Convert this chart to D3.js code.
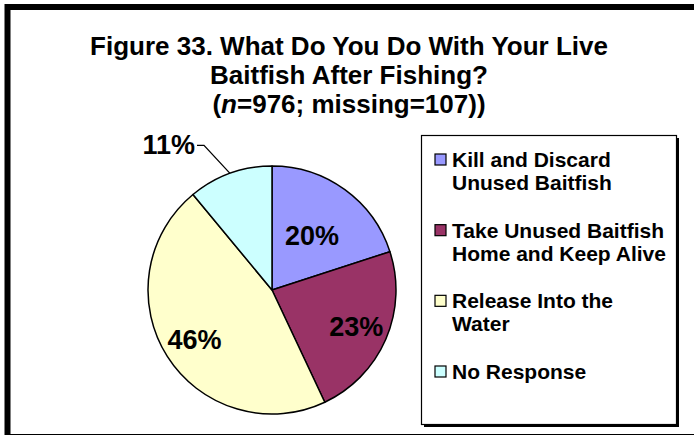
<!DOCTYPE html>
<html>
<head>
<meta charset="utf-8">
<script src="https://cdn.jsdelivr.net/npm/d3@7"></script>
<style>
  body { margin: 0; background: #fff; }
  svg text { font-family: "Liberation Sans", Arial, sans-serif; font-weight: bold; fill: #000; }
</style>
</head>
<body>
<div id="chart"></div>
<script>
// chart values
var categories = ["Kill and Discard Unused Baitfish",
                  "Take Unused Baitfish Home and Keep Alive",
                  "Release Into the Water",
                  "No Response"];
var legendLines = [["Kill and Discard", "Unused Baitfish"],
                   ["Take Unused Baitfish", "Home and Keep Alive"],
                   ["Release Into the", "Water"],
                   ["No Response"]];
var percents = [20, 23, 46, 11];
var sliceColors = ["#9999FF", "#993366", "#FFFFCC", "#CCFFFF"];
var titleLines = ["Figure 33. What Do You Do With Your Live",
                  "Baitfish After Fishing?"];
var sampleN = 976, missingN = 107;

var width = 694, height = 435;

var svg = d3.select("#chart")
  .append("svg")
    .attr("width", width)
    .attr("height", height);

// outer frame (thick, cropped on the right and bottom like the original)
svg.append("rect")
  .attr("x", 7.5).attr("y", 7)
  .attr("width", 730).attr("height", 430)
  .attr("fill", "none")
  .attr("stroke", "#000")
  .attr("stroke-width", 6);

// title
var title = svg.append("text")
  .attr("text-anchor", "middle")
  .attr("font-size", 26);
titleLines.forEach(function(line, i) {
  title.append("tspan")
    .attr("x", 349)
    .attr("y", 55 + i * 29)
    .text(line);
});
var third = title.append("tspan").attr("x", 349).attr("y", 113);
third.append("tspan").text("(");
third.append("tspan").attr("font-style", "italic").text("n");
third.append("tspan").text("=" + sampleN + "; missing=" + missingN + "))");

// pie
var cx = 272, cy = 290, radius = 124;

var pie = d3.pie()
  .sort(null)
  .value(function(d) { return d; });

var arc = d3.arc()
  .innerRadius(0)
  .outerRadius(radius);

var arcs = pie(percents);

var g = svg.append("g")
  .attr("transform", "translate(" + cx + "," + cy + ")");

g.selectAll("path")
  .data(arcs)
  .enter()
  .append("path")
    .attr("d", arc)
    .attr("fill", function(d, i) { return sliceColors[i]; })
    .attr("stroke", "#000")
    .attr("stroke-width", 1.5)
    .attr("stroke-linejoin", "round");

// inside labels (Excel's best fit pulls the small first one inward)
var labelRadius = [0.55, 0.74, 0.74];
function midAngle(d) { return (d.startAngle + d.endAngle) / 2; }

g.selectAll("text.inside")
  .data(arcs.filter(function(d) { return d.data >= 15; }))
  .enter()
  .append("text")
    .attr("class", "inside")
    .attr("text-anchor", "middle")
    .attr("font-size", 27)
    .attr("x", function(d, i) { return Math.sin(midAngle(d)) * radius * labelRadius[i]; })
    .attr("y", function(d, i) { return -Math.cos(midAngle(d)) * radius * labelRadius[i] + 10; })
    .text(function(d) { return d.data + "%"; });

// outside label with leader line for the small slice
arcs.filter(function(d) { return d.data < 15; }).forEach(function(d) {
  var a = midAngle(d);
  var px = Math.sin(a) * radius, py = -Math.cos(a) * radius;
  var ex = px - 26, ey = py - 28;
  g.append("polyline")
    .attr("points", [[px, py], [ex, ey], [ex - 7, ey]].join(" "))
    .attr("fill", "none")
    .attr("stroke", "#000")
    .attr("stroke-width", 1.3);
  g.append("text")
    .attr("text-anchor", "end")
    .attr("font-size", 27)
    .attr("x", ex - 9)
    .attr("y", ey + 9)
    .text(d.data + "%");
});

// legend
var lx = 421, ly = 135, lw = 255, lh = 289;
svg.append("rect")
  .attr("x", lx + 3).attr("y", ly + 3)
  .attr("width", lw).attr("height", lh)
  .attr("fill", "#000");
svg.append("rect")
  .attr("x", lx + 0.5).attr("y", ly + 0.5)
  .attr("width", lw).attr("height", lh)
  .attr("fill", "#fff")
  .attr("stroke", "#000")
  .attr("stroke-width", 1.2);

var legendY = d3.scalePoint()
  .domain(categories)
  .range([ly + 32, ly + 244]);

var item = svg.selectAll("g.legend")
  .data(categories)
  .enter()
  .append("g")
    .attr("class", "legend")
    .attr("transform", function(d) { return "translate(" + lx + "," + legendY(d) + ")"; });

item.append("rect")
  .attr("x", 14).attr("y", -13)
  .attr("width", 11).attr("height", 11)
  .attr("fill", function(d, i) { return sliceColors[i]; })
  .attr("stroke", "#000")
  .attr("stroke-width", 1.2);

item.append("text")
  .attr("font-size", 21)
  .each(function(d, i) {
    var t = d3.select(this);
    legendLines[i].forEach(function(line, j) {
      t.append("tspan")
        .attr("x", 31)
        .attr("y", j * 23)
        .text(line);
    });
  });
</script>
</body>
</html>
